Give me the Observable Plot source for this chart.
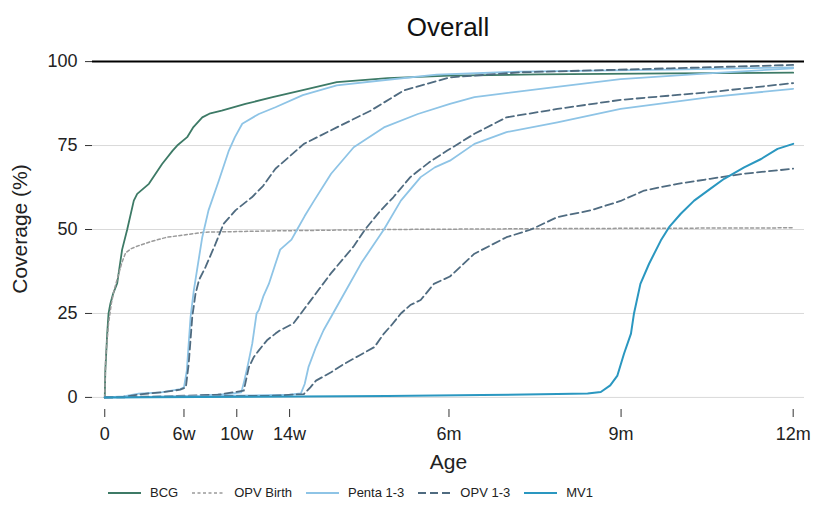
<!DOCTYPE html>
<html><head><meta charset="utf-8">
<script src="https://cdn.jsdelivr.net/npm/d3@7"></script>
<script src="https://cdn.jsdelivr.net/npm/@observablehq/plot@0.6"></script>
<style>
body{margin:0;background:#fff;font-family:Arial,"Liberation Sans",sans-serif;}
#wrap{position:relative;width:813px;height:515px;overflow:hidden;background:#fff;}
#chart{position:absolute;left:0;top:0;}
#title{position:absolute;left:92px;width:712px;top:12px;text-align:center;font-size:26px;color:#111;line-height:30px;}
#legend{position:absolute;top:485px;left:108px;display:flex;align-items:center;font-size:13px;color:#222;}
.item{display:flex;align-items:center;margin-right:14px;}
.item svg{margin-right:9px;}
</style></head>
<body>
<div id="wrap">
<div id="chart"></div>
<div id="title">Overall</div>
<div id="legend"></div>
</div>
<script>
// x in days of age, y in coverage %
const xTicks = [0, 42, 70, 98, 182.5, 273.75, 365];
const xTickLabels = ["0", "6w", "10w", "14w", "6m", "9m", "12m"];
const yTicks = [0, 25, 50, 75, 100];
const gridVals = [0, 25, 50, 75];

const bcg = [[0,0],[0.3,8],[1.3,19],[2,25],[3,28],[4.5,31],[6.6,34],[9.2,44],[11.9,50],[15.4,58.6],[17.2,60.6],[23.4,63.6],[30.4,69.5],[36,73.5],[38.4,75],[43.7,77.5],[47,80.5],[51.7,83.4],[56,84.6],[62,85.4],[74.6,87.4],[89,89.4],[105,91.5],[123,93.9],[150,95.1],[183,95.8],[230,96.2],[300,96.5],[365,96.7]];
const opvBirth = [[0,0],[0.5,12],[2,22],[3.5,28],[5,32],[7,36],[9,40],[11,43],[14,44.3],[18,45.2],[25,46.5],[33,47.7],[53,49.2],[90,49.6],[150,50],[250,50.3],[365,50.5]];
const penta1 = [[0,0],[10,0.3],[18,1.1],[30,1.5],[40,2.5],[42,3],[43.5,8],[45.5,24],[47.2,31.8],[49.5,40],[51.7,47.7],[55,55.7],[60.5,64.6],[65.8,73.5],[69,77.5],[72.9,81.5],[81.7,84.4],[90.5,86.4],[105,90],[123,92.9],[150,94.6],[176,96.1],[220,97],[300,97.6],[365,98.3]];
const opv1 = [[0,0],[10,0.2],[20,1],[30,1.5],[40,2.3],[43,3],[44.5,10],[46.4,24],[48.1,30.8],[50,35],[53.4,38.8],[58.7,45.7],[63,51.7],[69.3,55.7],[78,59.6],[84,63],[90.5,68.1],[105.6,75.5],[123,80.4],[141,85.4],[158.5,91.4],[183,95.3],[220,96.8],[300,98],[365,99]];
const penta2 = [[0,0],[20,0.1],[50,0.5],[65,1],[72.4,1.5],[74,5],[76,10],[78.2,16],[80.5,25],[81.7,26],[84,30],[87,33.8],[90.5,39.8],[93,44],[96,45.5],[99,47],[102,50],[106,54],[111,58.6],[120,66.6],[132,74.5],[148,80.4],[166,84.4],[183,87.4],[196,89.4],[231,91.9],[273.5,94.8],[320,96.5],[365,98]];
const opv2 = [[0,0],[30,0.3],[60,0.8],[73.7,2],[76.4,9],[79,12],[81.7,14],[86,17],[90.5,19],[93,20],[100,22],[104,25],[110,29.5],[120,37],[132,45],[138,50],[146,55.5],[153,59.6],[162,65.6],[172,70],[181.6,73.5],[196,78.5],[213,83.4],[240,85.9],[273.5,88.6],[321,90.9],[365,93.6]];
const penta3 = [[0,0],[30,0.2],[70,0.5],[98,0.8],[104,1.2],[106,4],[108,9],[112,15],[116,20],[121,25],[128,32],[136,40],[142,45],[148,50],[157,58.6],[167.5,65.6],[175,68.5],[183,70.5],[196,75.5],[213,79],[240,81.9],[273.5,85.9],[321,89.4],[365,91.9]];
const opv3 = [[0,0],[40,0.2],[90,0.5],[105.6,1],[109,3],[112,5],[120,7.5],[127,10],[135,12.5],[143,15],[148,19],[152,21.5],[157,25],[162,27.5],[167.5,29],[174.5,33.8],[183,36],[196,42.8],[213,47.7],[226,50],[240,53.7],[257.6,55.7],[273.5,58.5],[286,61.6],[303.7,63.6],[321,65.1],[339,66.6],[365,68.1]];
const mv1 = [[0,0],[50,0.1],[150,0.4],[200,0.7],[240,1],[256,1.2],[263,1.6],[268,3.6],[271.8,6.5],[275.3,13],[279,19],[280.6,25],[284,33.8],[288.6,39.8],[294.8,46.7],[299.2,50.7],[305.4,54.7],[312.5,58.6],[321,62.1],[328.4,65.1],[339,68.5],[348,71],[356.7,74],[365,75.5]];

const styles = {
  "BCG": {stroke: "#3d7a66", strokeWidth: 1.8},
  "OPV Birth": {stroke: "#9a9a9a", strokeWidth: 1.5, strokeDasharray: "3,2.5"},
  "Penta 1-3": {stroke: "#8ec4e6", strokeWidth: 1.8},
  "OPV 1-3": {stroke: "#4f6b80", strokeWidth: 1.8, strokeDasharray: "8,4"},
  "MV1": {stroke: "#2a97c0", strokeWidth: 2}
};
const series = [
  ["BCG", bcg], ["OPV Birth", opvBirth],
  ["Penta 1-3", penta1], ["OPV 1-3", opv1],
  ["Penta 1-3", penta2], ["OPV 1-3", opv2],
  ["Penta 1-3", penta3], ["OPV 1-3", opv3],
  ["MV1", mv1]
];

const plot = Plot.plot({
  width: 813, height: 470,
  marginLeft: 92, marginRight: 9, marginTop: 48, marginBottom: 61,
  style: {fontFamily: "Arial, 'Liberation Sans', sans-serif", fontSize: "18px", color: "#222", background: "transparent", overflow: "visible"},
  x: {domain: [-6.5, 371]},
  y: {domain: [-3.6, 103.9]},
  marks: [
    Plot.ruleY(gridVals, {stroke: "#d9d9d9", strokeWidth: 1}),
    Plot.ruleY([100], {stroke: "#000", strokeWidth: 2}),
    Plot.axisY({ticks: yTicks, tickSize: 7, tickPadding: 8, line: true, stroke: "#333", label: "Coverage (%)", labelAnchor: "center", labelOffset: 80, labelArrow: "none"}),
    Plot.axisX({ticks: xTicks, tickFormat: (d) => xTickLabels[xTicks.indexOf(d)], tickSize: 8, tickPadding: 10, line: true, stroke: "#333", label: "Age", labelAnchor: "center", labelOffset: 59, labelArrow: "none"}),
    ...series.map(([name, pts]) => Plot.line(pts, {x: d => d[0], y: d => d[1], ...styles[name]}))
  ]
});
document.getElementById("chart").appendChild(plot);
d3.select(plot).selectAll('g[aria-label="y-axis label"] text, g[aria-label="x-axis label"] text').style("font-size", "21px");

const legendNames = ["BCG", "OPV Birth", "Penta 1-3", "OPV 1-3", "MV1"];
const leg = d3.select("#legend");
legendNames.forEach(n => {
  const s = styles[n];
  const it = leg.append("div").attr("class", "item");
  const sv = it.append("svg").attr("width", 33).attr("height", 10);
  sv.append("line").attr("x1", 0).attr("x2", 33).attr("y1", 5).attr("y2", 5)
    .attr("stroke", s.stroke).attr("stroke-width", s.strokeWidth).attr("stroke-dasharray", s.strokeDasharray || null);
  it.append("span").text(n);
});
</script>
</body></html>
